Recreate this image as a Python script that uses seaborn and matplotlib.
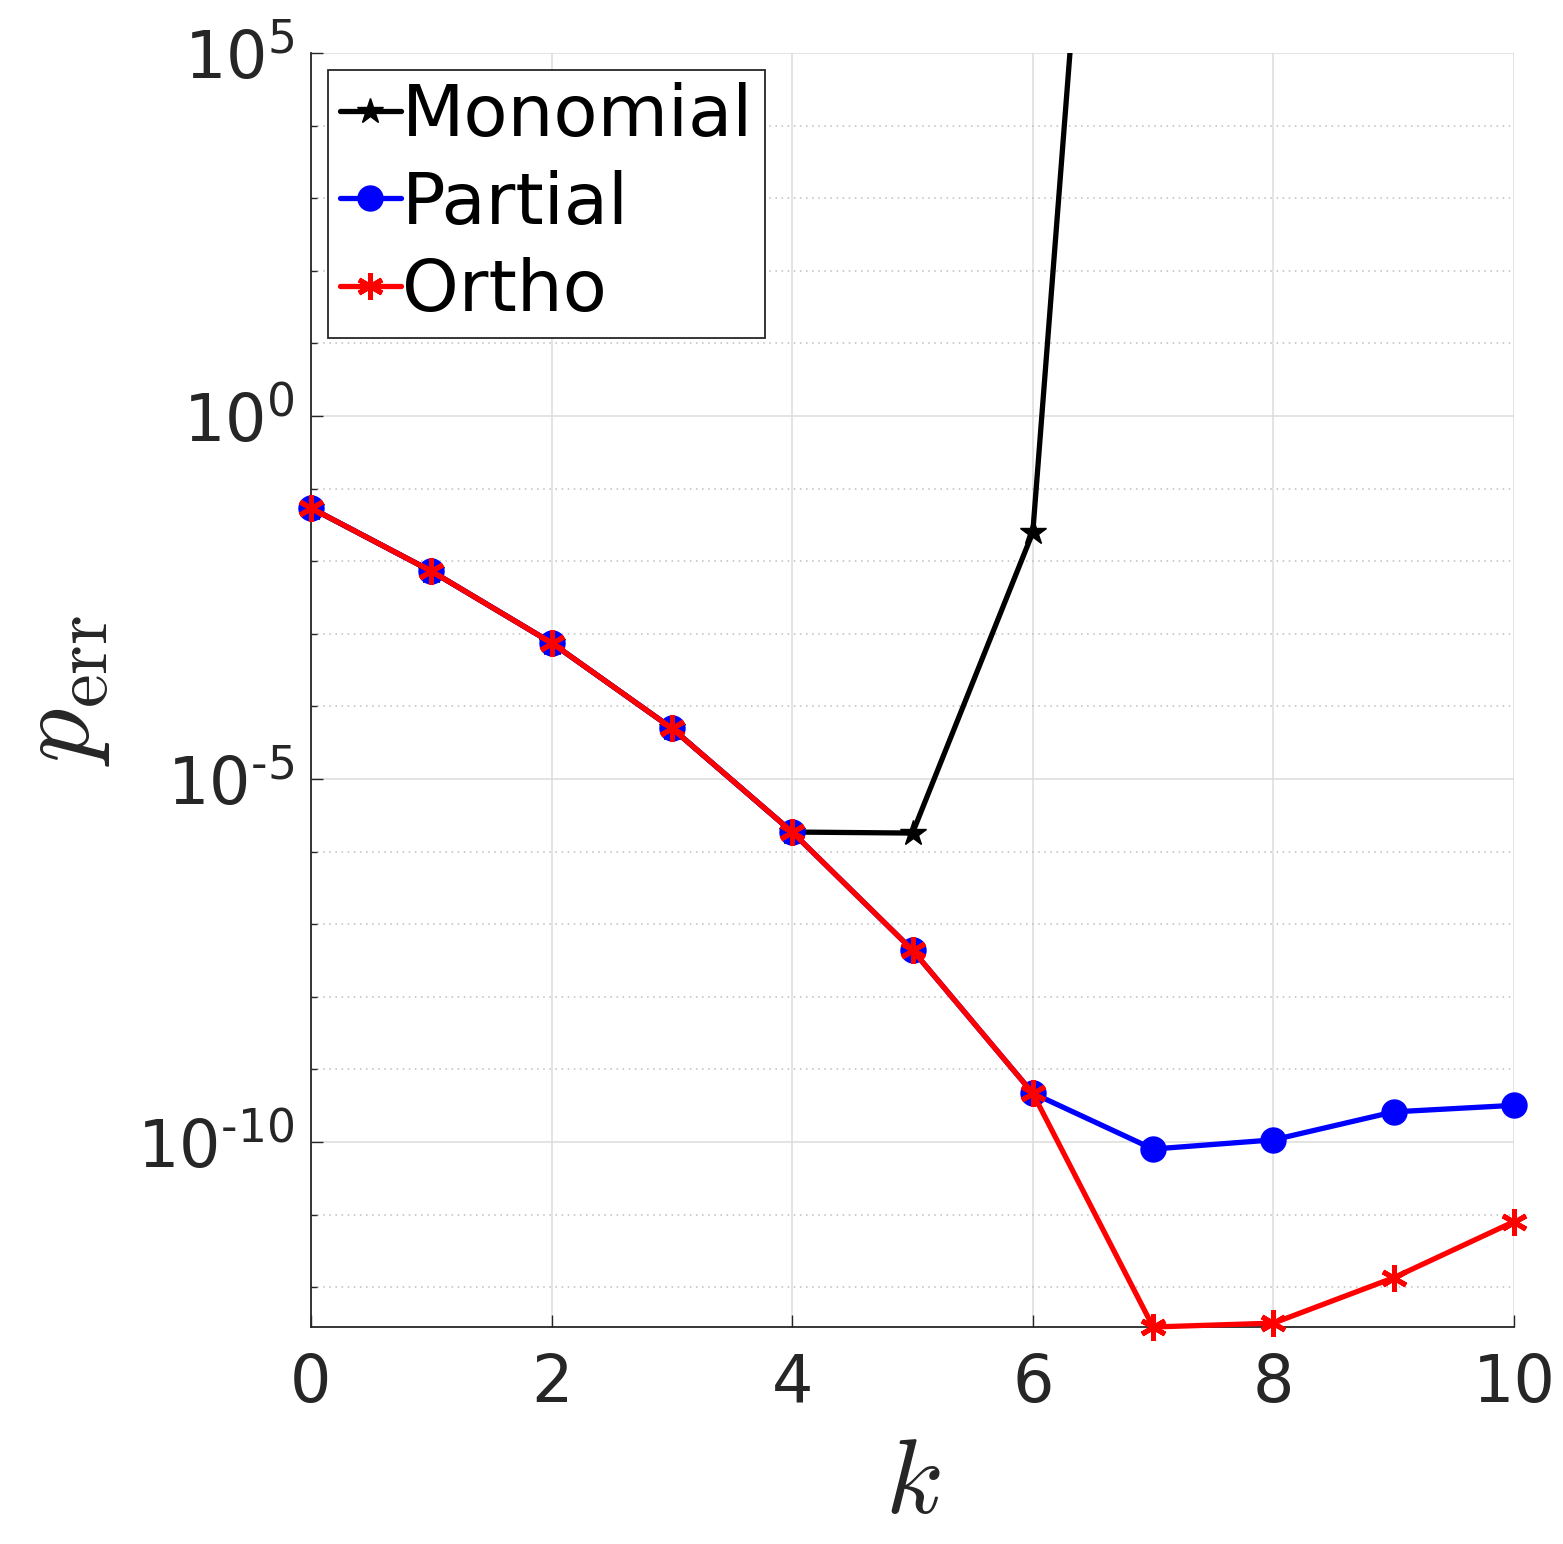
import numpy as np
import matplotlib
matplotlib.use("Agg")
import matplotlib.pyplot as plt
import matplotlib.ticker as mticker
import seaborn as sns

# ---- data ----
k_mono = [0, 1, 2, 3, 4, 5, 6, 7]
monomial = [5.4e-2, 7.3e-3, 7.5e-4, 5.0e-5, 1.86e-6, 1.8e-6, 2.5e-2, 6e19]

k_all = [0, 1, 2, 3, 4, 5, 6, 7, 8, 9, 10]
partial = [5.4e-2, 7.3e-3, 7.5e-4, 5.0e-5, 1.86e-6, 4.4e-8, 4.7e-10,
           8.0e-11, 1.07e-10, 2.6e-10, 3.2e-10]
ortho = [5.4e-2, 7.3e-3, 7.5e-4, 5.0e-5, 1.86e-6, 4.4e-8, 4.7e-10,
         2.83e-13, 3.2e-13, 1.35e-12, 8.0e-12]

series_labels = ["Monomial", "Partial", "Ortho"]
x_ticks = [0, 2, 4, 6, 8, 10]
y_major = [1e-10, 1e-5, 1e0, 1e5]
y_major_labels = [r"$10^{\text{-10}}$", r"$10^{\text{-5}}$", r"$10^{0}$", r"$10^{5}$"]

sns.set_theme(style="ticks")
plt.rcParams["font.family"] = ["DejaVu Sans"]
plt.rcParams["mathtext.fontset"] = "dejavusans"

fig = plt.figure(figsize=(15.63, 15.44), dpi=100)
ax = fig.add_axes([311 / 1563, 1 - 1327 / 1544, (1514 - 311) / 1563, (1327 - 53) / 1544])

lw = 3.8
sns.lineplot(x=k_mono, y=monomial, ax=ax, color="black", lw=lw, marker="*",
             markersize=19, markeredgecolor="black", markeredgewidth=1,
             label=series_labels[0], zorder=3)
sns.lineplot(x=k_all, y=partial, ax=ax, color="#0000ff", lw=lw, marker="o",
             markersize=18, markeredgecolor="#0000ff", markeredgewidth=1,
             label=series_labels[1], zorder=4, clip_on=False)
sns.lineplot(x=k_all, y=ortho, ax=ax, color="#ff0000", lw=lw, marker=(6, 2, 0),
             markersize=19, markeredgecolor="#ff0000", markeredgewidth=3.6,
             label=series_labels[2], zorder=5, clip_on=False)

ax.set_yscale("log")
ax.set_xlim(0, 10)
ax.set_ylim(min(ortho), 1e5)

ax.xaxis.set_major_locator(mticker.FixedLocator(x_ticks))
ax.xaxis.set_minor_locator(mticker.NullLocator())
ax.yaxis.set_major_locator(mticker.FixedLocator(y_major))
ax.yaxis.set_major_formatter(mticker.FixedFormatter(y_major_labels))
ax.yaxis.set_minor_locator(mticker.LogLocator(base=10, subs=[1.0], numticks=40))
ax.yaxis.set_minor_formatter(mticker.NullFormatter())

dark = "#262626"
ax.tick_params(axis="both", which="major", direction="in", length=8.6, width=1.0,
               colors=dark, labelsize=47)
ax.tick_params(axis="x", which="major", pad=18)
ax.tick_params(axis="y", which="major", pad=12)
ax.tick_params(axis="y", which="minor", direction="in", length=4.3, width=1.0, colors=dark)

for s in ["top", "right"]:
    ax.spines[s].set_visible(False)
for s in ["left", "bottom"]:
    ax.spines[s].set_color(dark)
    ax.spines[s].set_linewidth(1.3)

ax.grid(True, which="major", color="#dcdcdc", lw=1.1, ls="-", zorder=0)
ax.yaxis.grid(True, which="minor", color="#bdbdbd", lw=1.1, ls=(0, (1, 3)), zorder=0)
ax.set_axisbelow(True)

ax.set_xlabel(r"$k$", fontsize=76, labelpad=12, color=dark)
ax.set_ylabel(r"$p_{\rm err}$", fontsize=78, labelpad=18, color=dark)
ax.xaxis.label.set_math_fontfamily("cm")
ax.yaxis.label.set_math_fontfamily("cm")

leg = ax.legend(loc="upper left", fontsize=52, handlelength=0.84, handletextpad=0.02,
                borderpad=0.16, labelspacing=0.26, borderaxespad=0.24,
                fancybox=False, framealpha=1, edgecolor=dark)
leg.get_frame().set_linewidth(1.3)
for t in leg.get_texts():
    t.set_color("black")

fig.savefig("out.png", dpi=100, facecolor="white")
